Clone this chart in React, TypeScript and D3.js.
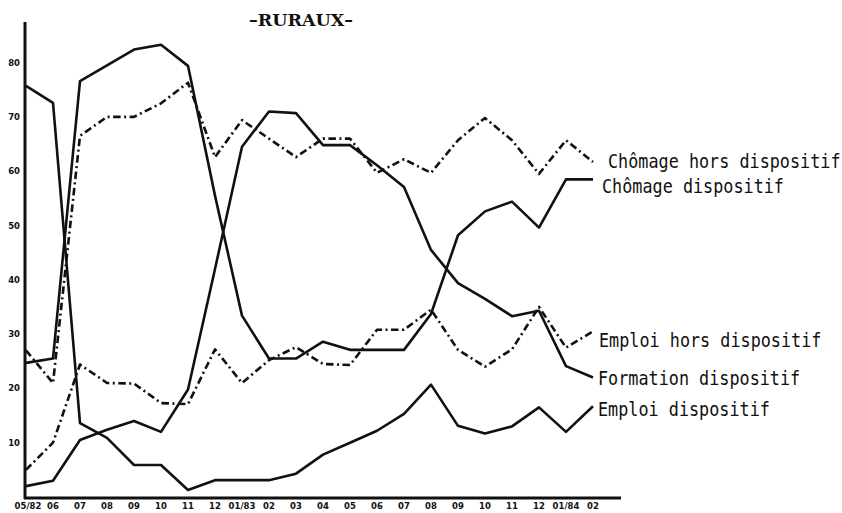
import React from "react";
import * as d3 from "d3";

// -RURAUX- : monthly shares, 05/82 .. 02/84
const months = [
  "05/82", "06", "07", "08", "09", "10", "11", "12",
  "01/83", "02", "03", "04", "05", "06", "07", "08", "09", "10", "11", "12",
  "01/84", "02",
];

const chomageHors = [27, 21, 66.5, 70, 70, 72.5, 76.3, 62.6, 69.4, 66, 62.6, 66, 66, 59.7, 62.2, 59.7, 65.7, 69.8, 65.7, 59.5, 65.7, 61.7];
const chomageDisp = [24.7, 25.5, 76.6, 79.5, 82.4, 83.3, 79.4, 55.5, 33.4, 25.5, 25.5, 28.6, 27.1, 27.1, 27.1, 33.7, 48.2, 52.6, 54.4, 49.6, 58.5, 58.5];
const emploiHors = [5, 10, 24.4, 21, 20.9, 17.3, 17.1, 27.2, 21, 25.2, 27.6, 24.5, 24.3, 30.8, 30.8, 34.5, 27.1, 24, 27.2, 35, 27.5, 30.5];
const formationDisp = [2, 3, 10.5, 12.4, 14, 12, 19.8, 42, 64.5, 71, 70.7, 64.8, 64.8, 61.1, 57.1, 45.5, 39.4, 36.5, 33.3, 34.3, 24.1, 22];
const emploiDisp = [75.7, 72.6, 13.6, 10.9, 5.9, 5.9, 1.3, 3.1, 3.1, 3.1, 4.3, 7.8, 10, 12.2, 15.3, 20.7, 13.1, 11.7, 13, 16.5, 12, 16.7];

const seriesNames = [
  "Chômage hors dispositif",
  "Chômage dispositif",
  "Emploi hors dispositif",
  "Formation dispositif",
  "Emploi dispositif",
];
const seriesValues = [chomageHors, chomageDisp, emploiHors, formationDisp, emploiDisp];
const seriesDashed = [true, false, true, false, false];

const yTicks = [10, 20, 30, 40, 50, 60, 70, 80];

const W = 842;
const H = 513;

// label placement next to line ends: [dx, dy]
const labelOffsets = [
  [15, 6],
  [9, 14],
  [6, 16],
  [5, 7],
  [5, 10],
];

export default function App() {
  // months repeat ("06", "07"...), so position by index
  const idx = d3.range(months.length);
  const x = d3.scalePoint<number>().domain(idx).range([26, 593]);
  const y = d3.scaleLinear().domain([0, 80]).range([497, 62.6]);

  const line = d3
    .line<number>()
    .x((_, i) => x(i) as number)
    .y((d) => y(d));

  const ink = "#111";
  const mono = "'DejaVu Sans Mono', monospace";
  const lastX = x(months.length - 1) as number;

  return (
    <svg
      width={W}
      height={H}
      viewBox={`0 0 ${W} ${H}`}
      style={{ position: "absolute", left: 0, top: 0, background: "#fff" }}
    >
      <rect x={0} y={0} width={W} height={H} fill="#fff" />

      {/* title */}
      <text
        x={301}
        y={26}
        textAnchor="middle"
        fontFamily="'DejaVu Serif', serif"
        fontWeight="bold"
        fontSize={16}
        textLength={104}
        lengthAdjust="spacingAndGlyphs"
        fill={ink}
      >
        –RURAUX–
      </text>

      {/* axes */}
      <line x1={25} y1={22} x2={25} y2={499} stroke={ink} strokeWidth={3} />
      <line x1={24} y1={498} x2={621} y2={498} stroke={ink} strokeWidth={3} />

      {/* y tick labels */}
      {yTicks.map((t) => (
        <text
          key={t}
          x={20}
          y={y(t) + 3}
          textAnchor="end"
          fontFamily="'DejaVu Sans', sans-serif"
          fontWeight="bold"
          fontSize={8.5}
          fill={ink}
        >
          {t}
        </text>
      ))}

      {/* x tick labels */}
      {months.map((m, i) => (
        <text
          key={i}
          x={i === 0 ? 28 : (x(i) as number)}
          y={509}
          textAnchor="middle"
          fontFamily="'DejaVu Sans', sans-serif"
          fontWeight="bold"
          fontSize={8.5}
          fill={ink}
        >
          {m}
        </text>
      ))}

      {/* series */}
      {seriesValues.map((vals, k) => (
        <path
          key={seriesNames[k]}
          d={line(vals) || ""}
          fill="none"
          stroke={ink}
          strokeWidth={2.6}
          strokeLinejoin="round"
          strokeDasharray={seriesDashed[k] ? "7.5 3.5 2 3.5" : undefined}
        />
      ))}

      {/* end labels, typewriter-like: mono, a bit stretched vertically */}
      {seriesValues.map((vals, k) => {
        const last = vals[vals.length - 1];
        const lx = lastX + labelOffsets[k][0];
        const ly = y(last) + labelOffsets[k][1];
        return (
          <text
            key={"l" + k}
            transform={`translate(${lx},${ly}) scale(1,1.12)`}
            fontFamily={mono}
            fontSize={16.8}
            fill={ink}
          >
            {seriesNames[k]}
          </text>
        );
      })}
    </svg>
  );
}
